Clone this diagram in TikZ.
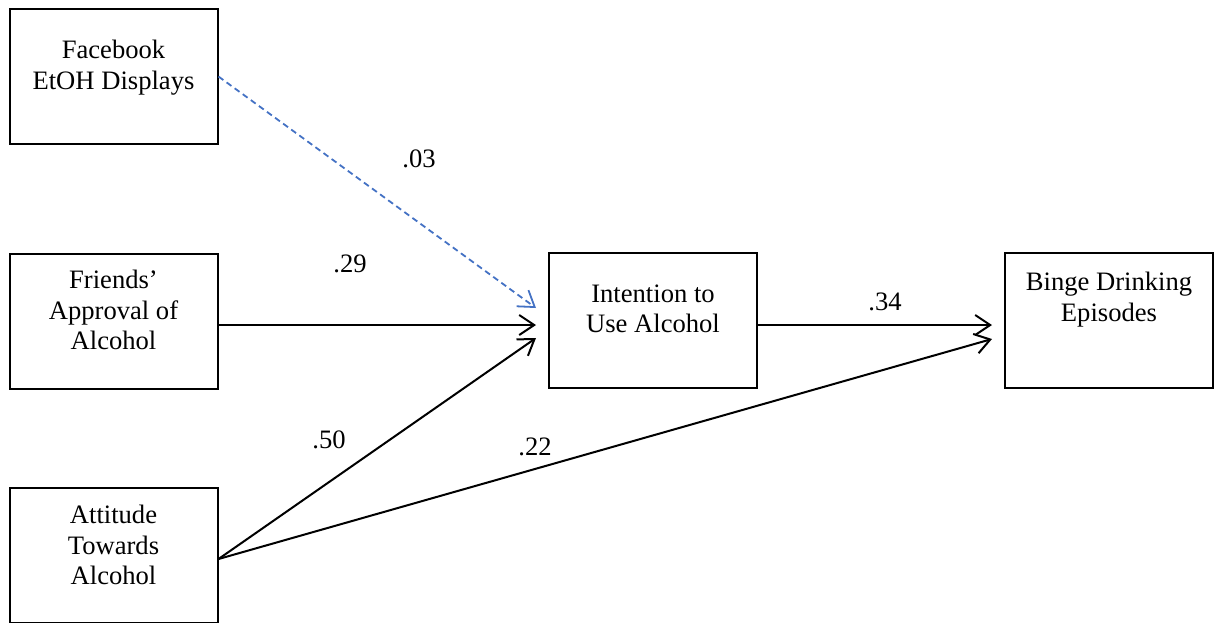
\documentclass[tikz,border=0pt]{standalone}
\usepackage{fontspec}
\setmainfont{Liberation Serif}
\usetikzlibrary{arrows.meta,calc}
\definecolor{pathblue}{RGB}{68,114,196}
\begin{document}
\begin{tikzpicture}[x=0.5pt,y=-0.5pt,
  box/.style={draw,line width=1pt,minimum width=104pt,minimum height=67.5pt,inner sep=0pt},
  txt/.style={font=\fontsize{13.3}{15.2}\selectfont,align=center,inner sep=0pt,anchor=north},
  lab/.style={font=\fontsize{13.3}{15.2}\selectfont,inner sep=0pt,anchor=base},
  arr/.style={line width=1pt,-{Straight Barb[length=7.5pt,width=10pt,line width=1pt]}},
  dasharr/.style={line width=0.9pt,pathblue,dash pattern=on 3pt off 2pt,
    -{Straight Barb[length=7.5pt,width=10pt,line width=0.9pt]}}]
\useasboundingbox (0,0) rectangle (1217,622);
\begin{scope}
\clip (0,0) rectangle (1217,622);
% boxes
\node[box] (fb) at (113.5,76.5) {};
\node[box] (fr) at (113.5,321) {};
\node[box] (at) at (113.5,555) {};
\node[box] (int) at (653,320.5) {};
\node[box] (bd) at (1109,320) {};
% texts
\node[txt] (fbt) at (113.5,40) {Facebook\\EtOH Displays};
\node[txt] (frt) at (113.5,270) {Friends’\\Approval of\\Alcohol};
\node[txt] (att) at (113.5,505) {Attitude\\Towards\\Alcohol};
\node[txt] (intt) at (653,284) {Intention to\\Use Alcohol};
\node[txt] (bdt) at (1109,272) {Binge Drinking\\Episodes};
% connector end points
\coordinate (frOut) at ($(fr.east)+(0,4)$);
\coordinate (atOut) at ($(at.east)+(0,4)$);
\coordinate (intOut) at ($(int.east)+(0,4.5)$);
\coordinate (inBlue) at ($(int.west)+(-12,-12.5)$);
\coordinate (inA) at ($(int.west)+(-12,4.5)$);
\coordinate (inB) at ($(int.west)+(-12,17.5)$);
\coordinate (bdA) at ($(bd.west)+(-12,5)$);
\coordinate (bdB) at ($(bd.west)+(-12,19)$);
% connectors
\draw[dasharr] (fb.east) -- (inBlue);
\draw[arr] (frOut) -- (inA);
\draw[arr] (atOut) -- (inB);
\draw[arr] (intOut) -- (bdA);
\draw[arr] (atOut) -- (bdB);
% labels
\node[lab] (l03) at (419,167) {.03};
\node[lab] (l29) at (350,272) {.29};
\node[lab] (l34) at (885,310) {.34};
\node[lab] (l50) at (329,448) {.50};
\node[lab] (l22) at (535,455) {.22};
\end{scope}
\end{tikzpicture}
\end{document}
